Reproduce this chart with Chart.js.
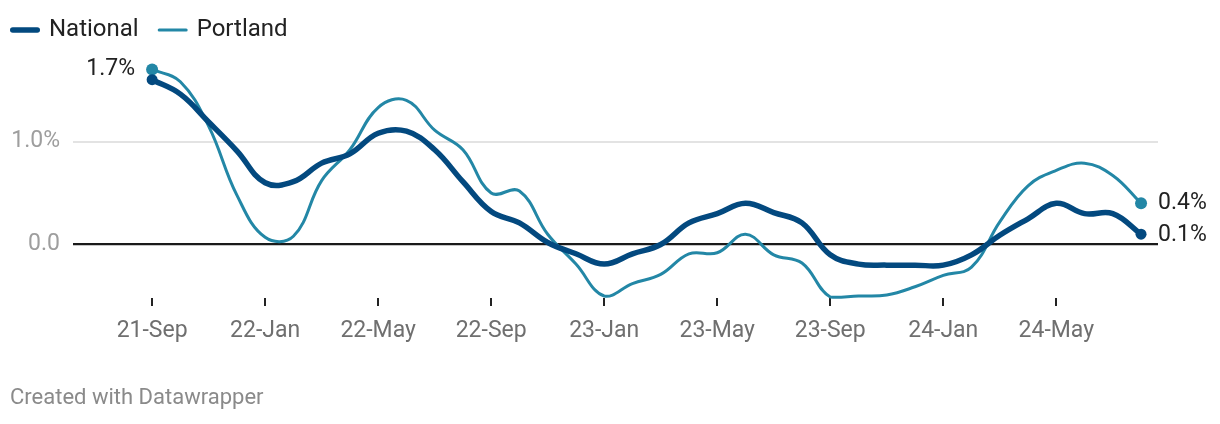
<!DOCTYPE html>
<html>
<head>
<meta charset="utf-8">
<script src="https://cdn.jsdelivr.net/npm/chart.js@4/dist/chart.umd.min.js"></script>
<style>
  html, body { margin: 0; padding: 0; background: #fff; }
  #wrap { position: relative; width: 1220px; height: 424px; }
</style>
</head>
<body>
<div id="wrap"><canvas id="c"></canvas></div>
<script>
const months = ['21-Sep','21-Oct','21-Nov','21-Dec','22-Jan','22-Feb','22-Mar','22-Apr','22-May','22-Jun','22-Jul','22-Aug',
  '22-Sep','22-Oct','22-Nov','22-Dec','23-Jan','23-Feb','23-Mar','23-Apr','23-May','23-Jun','23-Jul','23-Aug',
  '23-Sep','23-Oct','23-Nov','23-Dec','24-Jan','24-Feb','24-Mar','24-Apr','24-May','24-Jun','24-Jul','24-Aug'];
const tickLabels = ['21-Sep','22-Jan','22-May','22-Sep','23-Jan','23-May','23-Sep','24-Jan','24-May'];
const national = [1.6, 1.46, 1.19, 0.91, 0.60, 0.61, 0.79, 0.88, 1.08, 1.10, 0.92, 0.61,
  0.32, 0.21, 0.02, -0.09, -0.19, -0.09, 0.0, 0.21, 0.30, 0.40, 0.31, 0.21,
  -0.10, -0.19, -0.20, -0.20, -0.20, -0.10, 0.09, 0.25, 0.40, 0.30, 0.30, 0.1];
const portland = [1.7, 1.58, 1.15, 0.48, 0.07, 0.08, 0.62, 0.92, 1.33, 1.40, 1.11, 0.92,
  0.50, 0.52, 0.10, -0.19, -0.50, -0.38, -0.29, -0.09, -0.08, 0.10, -0.10, -0.18,
  -0.51, -0.50, -0.49, -0.41, -0.30, -0.22, 0.22, 0.57, 0.72, 0.79, 0.67, 0.4];
const yTicks = [0, 1];
const seriesNames = ['National', 'Portland'];
const seriesColors = ['#03497f', '#2387a6'];

const FONT = 'Roboto, "Noto Sans", sans-serif';
const toXY = arr => arr.map((v, i) => ({ x: i, y: v }));
const endRadius = r => ctx => (ctx.dataIndex === 0 || ctx.dataIndex === months.length - 1) ? r : 0;

const customLegend = {
  id: 'customLegend',
  afterDraw(chart) {
    const ctx = chart.ctx;
    ctx.save();
    ctx.font = '24px ' + FONT;
    ctx.textBaseline = 'middle';
    const y = 30;
    let x = 10;
    chart.data.datasets.forEach((ds) => {
      ctx.strokeStyle = ds.borderColor;
      ctx.lineWidth = ds.borderWidth;
      ctx.lineCap = 'round';
      ctx.beginPath();
      ctx.moveTo(x + ds.borderWidth / 2, y);
      ctx.lineTo(x + 30 - ds.borderWidth / 2, y);
      ctx.stroke();
      ctx.fillStyle = '#222';
      ctx.textAlign = 'left';
      ctx.fillText(ds.label, x + 39, y);
      x += 39 + ctx.measureText(ds.label).width + 19;
    });
    // footer
    ctx.font = '22px ' + FONT;
    ctx.fillStyle = '#8a8a8a';
    ctx.fillText('Created with Datawrapper', 10, 398);
    ctx.restore();
  }
};

const endLabels = {
  id: 'endLabels',
  afterDatasetsDraw(chart) {
    const ctx = chart.ctx;
    ctx.save();
    ctx.font = '23px ' + FONT;
    ctx.fillStyle = '#222';
    ctx.textBaseline = 'middle';
    const fmt = v => v.toFixed(1) + '%';
    const pMeta = chart.getDatasetMeta(1);
    const nMeta = chart.getDatasetMeta(0);
    const p0 = pMeta.data[0];
    ctx.textAlign = 'right';
    ctx.fillText(fmt(portland[0]), p0.x - 17, p0.y);
    ctx.textAlign = 'left';
    const pl = pMeta.data[pMeta.data.length - 1];
    const nl = nMeta.data[nMeta.data.length - 1];
    ctx.fillText(fmt(portland[portland.length - 1]), pl.x + 17, pl.y);
    ctx.fillText(fmt(national[national.length - 1]), nl.x + 17, nl.y + 1);
    ctx.restore();
  }
};

new Chart(document.getElementById('c'), {
  type: 'line',
  data: {
    datasets: [
      {
        label: seriesNames[0],
        data: toXY(national),
        borderColor: seriesColors[0],
        backgroundColor: seriesColors[0],
        borderWidth: 5.5,
        tension: 0.4,
        pointRadius: endRadius(5.5),
        pointHoverRadius: 0,
        pointBorderWidth: 0,
        borderCapStyle: 'round',
        borderJoinStyle: 'round',
        clip: false,
        order: 0
      },
      {
        label: seriesNames[1],
        data: toXY(portland),
        borderColor: seriesColors[1],
        backgroundColor: seriesColors[1],
        borderWidth: 3,
        tension: 0.4,
        pointRadius: endRadius(6),
        pointHoverRadius: 0,
        pointBorderWidth: 0,
        borderCapStyle: 'round',
        borderJoinStyle: 'round',
        clip: false,
        order: 1
      }
    ]
  },
  options: {
    responsive: true,
    maintainAspectRatio: false,
    animation: false,
    events: [],
    layout: { padding: { top: 52, left: 0, right: 62, bottom: 65.9 } },
    plugins: {
      legend: { display: false },
      tooltip: { enabled: false }
    },
    scales: {
      x: {
        type: 'linear',
        min: -2.8,
        max: 35.6,
        afterBuildTicks: (scale) => {
          scale.ticks = tickLabels.map(l => ({ value: months.indexOf(l) }));
        },
        afterFit: (scale) => { scale.height = 60; },
        grid: {
          drawOnChartArea: false,
          drawTicks: true,
          tickLength: 8,
          color: '#222',
          lineWidth: 2
        },
        border: { display: false },
        ticks: {
          autoSkip: false,
          maxRotation: 0,
          padding: 11,
          color: '#6f6f6f',
          font: { family: FONT, size: 23 },
          callback: (v) => months[v]
        }
      },
      y: {
        min: -0.52,
        max: 1.869,
        afterBuildTicks: (scale) => {
          scale.ticks = yTicks.map(v => ({ value: v }));
        },
        afterFit: (scale) => { scale.width = 73; },
        grid: {
          drawTicks: false,
          color: (c) => c.tick && c.tick.value === 0 ? '#1a1a1a' : '#e3e3e3',
          lineWidth: (c) => c.tick && c.tick.value === 0 ? 2.2 : 2
        },
        border: { display: false },
        ticks: {
          padding: 13,
          color: '#9e9e9e',
          font: { family: FONT, size: 23 },
          callback: (v) => v === 0 ? '0.0' : v.toFixed(1) + '%'
        }
      }
    }
  },
  plugins: [customLegend, endLabels]
});
</script>
</body>
</html>
